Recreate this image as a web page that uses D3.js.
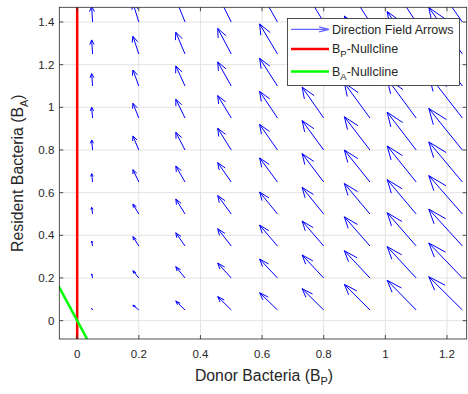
<!DOCTYPE html>
<html>
<head>
<meta charset="utf-8">
<script src="https://cdn.jsdelivr.net/npm/d3@7"></script>
<style>
  body { margin: 0; background: #fff; }
  text { font-family: "Liberation Sans", Arial, sans-serif; fill: #262626; }
</style>
</head>
<body>
<svg id="chart" width="468" height="394"></svg>
<script>
// grid of arrow tails
const bpValues = [0.05, 0.2, 0.35, 0.5, 0.65, 0.8, 0.95, 1.1, 1.25]
const baValues = [0.05, 0.2, 0.35, 0.5, 0.65, 0.8, 0.95, 1.1, 1.25, 1.4]

// arrow components as drawn (data units, already quiver-scaled)
// horizontal part only changes with B_P
const uByColumn = [-0.003, -0.019, -0.030, -0.044, -0.058, -0.070, -0.083, -0.094, -0.109]
// vertical part, one row per B_A value, one entry per B_P column
const vByRow = [
  [0.007, 0.023, 0.042, 0.063, 0.081, 0.100, 0.120, 0.139, 0.156],
  [0.019, 0.034, 0.053, 0.070, 0.089, 0.108, 0.128, 0.147, 0.164],
  [0.023, 0.044, 0.062, 0.081, 0.098, 0.117, 0.137, 0.156, 0.173],
  [0.031, 0.047, 0.070, 0.086, 0.103, 0.125, 0.143, 0.161, 0.180],
  [0.039, 0.058, 0.075, 0.091, 0.113, 0.133, 0.150, 0.169, 0.188],
  [0.047, 0.066, 0.083, 0.102, 0.120, 0.138, 0.156, 0.177, 0.195],
  [0.050, 0.069, 0.088, 0.105, 0.125, 0.145, 0.164, 0.184, 0.203],
  [0.058, 0.075, 0.094, 0.113, 0.130, 0.152, 0.171, 0.192, 0.211],
  [0.066, 0.083, 0.102, 0.120, 0.141, 0.159, 0.178, 0.199, 0.218],
  [0.073, 0.089, 0.108, 0.127, 0.148, 0.166, 0.185, 0.206, 0.225]
]

// nullclines
const bpNullcline = [[0, -0.2], [0, 1.6]]
const baNullcline = [[-0.1, 0.268], [0.1, -0.268]]

const xTicks = [0, 0.2, 0.4, 0.6, 0.8, 1, 1.2]
const yTicks = [0, 0.2, 0.4, 0.6, 0.8, 1, 1.2, 1.4]
const xLimits = [-0.058, 1.264]
const yLimits = [-0.086, 1.469]

const svg = d3.select('#chart')
const box = {left: 59.3, right: 466.7, top: 7.3, bottom: 339}

const x = d3.scaleLinear().domain(xLimits).range([box.left, box.right])
const y = d3.scaleLinear().domain(yLimits).range([box.bottom, box.top])

svg.append('clipPath').attr('id', 'plot-clip')
  .append('rect')
    .attr('x', box.left).attr('y', box.top)
    .attr('width', box.right - box.left).attr('height', box.bottom - box.top)

// grid
let grid = svg.append('g')
grid.selectAll('line.gx').data(xTicks).join('line')
    .attr('x1', d => x(d)).attr('x2', d => x(d))
    .attr('y1', box.top).attr('y2', box.bottom)
    .attr('stroke', '#e3e3e3').attr('stroke-width', 1)
grid.selectAll('line.gy').data(yTicks).join('line')
    .attr('y1', d => y(d)).attr('y2', d => y(d))
    .attr('x1', box.left).attr('x2', box.right)
    .attr('stroke', '#e3e3e3').attr('stroke-width', 1)

let plot = svg.append('g').attr('clip-path', 'url(#plot-clip)')

// quiver arrows, head shape the way matlab builds it (in data units)
let arrows = []
baValues.forEach((ba, r) => {
  bpValues.forEach((bp, c) => {
    arrows.push({bp, ba, u: uByColumn[c], v: vByRow[r][c]})
  })
})
const alpha = 0.33, beta = 0.33
let line = d3.line().x(p => x(p[0])).y(p => y(p[1]))
plot.selectAll('path.arrow').data(arrows).join('path')
    .attr('fill', 'none')
    .attr('stroke', '#0000ff')
    .attr('stroke-width', 1)
    .attr('d', d => {
      let hx = d.bp + d.u, hy = d.ba + d.v
      let shaft = line([[d.bp, d.ba], [hx, hy]])
      let head = line([
        [hx - alpha * (d.u + beta * d.v), hy - alpha * (d.v - beta * d.u)],
        [hx, hy],
        [hx - alpha * (d.u - beta * d.v), hy - alpha * (d.v + beta * d.u)]
      ])
      return shaft + head
    })

plot.append('path').datum(bpNullcline)
    .attr('d', line).attr('stroke', '#ff0000').attr('stroke-width', 2.5).attr('fill', 'none')
plot.append('path').datum(baNullcline)
    .attr('d', line).attr('stroke', '#00ff00').attr('stroke-width', 2.5).attr('fill', 'none')

// axes box with inward ticks on all four sides
let axisColor = '#262626'
let tickLen = 4
let frame = svg.append('g').attr('stroke', axisColor).attr('stroke-width', 0.8)
frame.append('rect')
    .attr('x', box.left).attr('y', box.top)
    .attr('width', box.right - box.left).attr('height', box.bottom - box.top)
    .attr('fill', 'none')
xTicks.forEach(t => {
  frame.append('line').attr('x1', x(t)).attr('x2', x(t)).attr('y1', box.bottom).attr('y2', box.bottom - tickLen)
  frame.append('line').attr('x1', x(t)).attr('x2', x(t)).attr('y1', box.top).attr('y2', box.top + tickLen)
})
yTicks.forEach(t => {
  frame.append('line').attr('y1', y(t)).attr('y2', y(t)).attr('x1', box.left).attr('x2', box.left + tickLen)
  frame.append('line').attr('y1', y(t)).attr('y2', y(t)).attr('x1', box.right).attr('x2', box.right - tickLen)
})

// tick labels
svg.append('g').selectAll('text').data(xTicks).join('text')
    .attr('x', d => x(d)).attr('y', 358)
    .attr('text-anchor', 'middle').attr('font-size', 11.5)
    .text(d => d3.format('~g')(d))
svg.append('g').selectAll('text').data(yTicks).join('text')
    .attr('x', box.left - 5).attr('y', d => y(d)).attr('dy', '0.35em')
    .attr('text-anchor', 'end').attr('font-size', 11.5)
    .text(d => d3.format('~g')(d))

// axis labels with subscripts
let xLabel = svg.append('text')
    .attr('x', (box.left + box.right) / 2 + 1).attr('y', 380.5)
    .attr('text-anchor', 'middle').attr('font-size', 15.8)
xLabel.append('tspan').text('Donor Bacteria (B')
xLabel.append('tspan').attr('font-size', 11).attr('dy', 4.5).text('P')
xLabel.append('tspan').attr('dy', -4.5).text(')')

let yLabel = svg.append('text')
    .attr('transform', `translate(23,${(box.top + box.bottom) / 2}) rotate(-90)`)
    .attr('text-anchor', 'middle').attr('font-size', 15.8)
yLabel.append('tspan').text('Resident Bacteria (B')
yLabel.append('tspan').attr('font-size', 11).attr('dy', 4.5).text('A')
yLabel.append('tspan').attr('dy', -4.5).text(')')

// legend
let legend = svg.append('g')
legend.append('rect')
    .attr('x', 287.5).attr('y', 18.5).attr('width', 172).attr('height', 67)
    .attr('fill', '#fff').attr('stroke', axisColor).attr('stroke-width', 0.8)

let legendItems = [
  {y: 29.3, color: '#0000ff', arrow: true, main: 'Direction Field Arrows'},
  {y: 49, color: '#ff0000', main: 'B', sub: 'P', rest: '-Nullcline'},
  {y: 71.5, color: '#00ff00', main: 'B', sub: 'A', rest: '-Nullcline'}
]
legendItems.forEach(item => {
  if (item.arrow) {
    legend.append('path')
        .attr('d', `M291,${item.y}L329,${item.y}M319,${item.y - 2.5}L329,${item.y}L319,${item.y + 2.5}`)
        .attr('fill', 'none').attr('stroke', item.color).attr('stroke-opacity', 0.6).attr('stroke-width', 1.3)
  } else {
    legend.append('line')
        .attr('x1', 291).attr('x2', 329).attr('y1', item.y).attr('y2', item.y)
        .attr('stroke', item.color).attr('stroke-width', 2.5)
  }
  let t = legend.append('text')
      .attr('x', 332).attr('y', item.y).attr('dy', '0.35em').attr('font-size', 12.5)
  t.append('tspan').text(item.main)
  if (item.sub) {
    t.append('tspan').attr('font-size', 9.5).attr('dy', 4).text(item.sub)
    t.append('tspan').attr('dy', -4).text(item.rest)
  }
})
</script>
</body>
</html>
